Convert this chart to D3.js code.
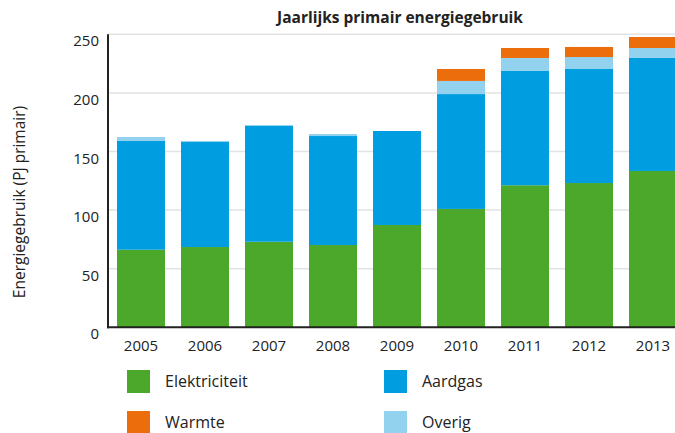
<!DOCTYPE html>
<html>
<head>
<meta charset="utf-8">
<script src="https://cdn.jsdelivr.net/npm/d3@7"></script>
<style>
  body { margin: 0; background: #fff; }
  svg { font-family: "Open Sans", Lato, sans-serif; }
</style>
</head>
<body>
<svg width="675" height="433"></svg>
<script>
// data (PJ primair)
const years = ["2005", "2006", "2007", "2008", "2009", "2010", "2011", "2012", "2013"];
const elektriciteit = [66.2, 68.5, 73, 70.2, 87.3, 101, 121.2, 123.1, 133.4];
const aardgas = [92.8, 89.6, 98.8, 93, 80.2, 98, 97.5, 97.3, 96.4];
const overig = [3.4, 0.9, 0.8, 1.7, 0, 11.2, 11.1, 10.2, 8.5];
const warmte = [0, 0, 0, 0, 0, 10.2, 8.5, 8.6, 9.4];
const yTicks = [0, 50, 100, 150, 200, 250];

const seriesNames = ["Elektriciteit", "Aardgas", "Overig", "Warmte"];
const colors = {
  "Elektriciteit": "#4ca82a",
  "Aardgas": "#009ee0",
  "Overig": "#93d2ef",
  "Warmte": "#ec6d0b"
};

const table = years.map(function(y, i) {
  return { year: y, "Elektriciteit": elektriciteit[i], "Aardgas": aardgas[i], "Overig": overig[i], "Warmte": warmte[i] };
});

const svg = d3.select("svg");

const x = d3.scaleBand()
  .domain(years)
  .range([109, 685])
  .paddingInner(0.25)
  .paddingOuter(0.125);

const y = d3.scaleLinear()
  .domain([0, 250])
  .range([327.3, 34.3]);

// gridlines
svg.append("g")
  .selectAll("line")
  .data(yTicks.filter(d => d > 0))
  .join("line")
  .attr("x1", 108)
  .attr("x2", 675)
  .attr("y1", d => y(d))
  .attr("y2", d => y(d))
  .attr("stroke", "#e3e3e3")
  .attr("stroke-width", 1.5);

// stacked bars
const stack = d3.stack().keys(seriesNames);
svg.append("g")
  .selectAll("g")
  .data(stack(table))
  .join("g")
  .attr("fill", d => colors[d.key])
  .selectAll("rect")
  .data(d => d)
  .join("rect")
  .attr("x", d => x(d.data.year))
  .attr("width", x.bandwidth())
  .attr("y", d => y(d[1]))
  .attr("height", d => y(d[0]) - y(d[1]));

// axes
svg.append("line")
  .attr("x1", 108).attr("x2", 108)
  .attr("y1", y(250)).attr("y2", y(0) + 1)
  .attr("stroke", "#222").attr("stroke-width", 2);
svg.append("line")
  .attr("x1", 107).attr("x2", 675)
  .attr("y1", y(0)).attr("y2", y(0))
  .attr("stroke", "#222").attr("stroke-width", 2);

// y tick labels
svg.append("g")
  .selectAll("text")
  .data(yTicks)
  .join("text")
  .attr("x", 99)
  .attr("y", d => y(d) + 12)
  .attr("text-anchor", "end")
  .attr("font-size", 15)
  .attr("fill", "#222")
  .text(d => d);

// x tick labels
svg.append("g")
  .selectAll("text")
  .data(years)
  .join("text")
  .attr("x", d => x(d) + x.bandwidth() / 2)
  .attr("y", 351)
  .attr("text-anchor", "middle")
  .attr("font-size", 15)
  .attr("fill", "#222")
  .text(d => d);

// title
svg.append("text")
  .attr("x", 400)
  .attr("y", 23)
  .attr("text-anchor", "middle")
  .attr("font-size", 15.5)
  .attr("font-weight", "bold")
  .attr("fill", "#222")
  .text("Jaarlijks primair energiegebruik");

// y axis title
svg.append("text")
  .attr("transform", "translate(25,202) rotate(-90)")
  .attr("text-anchor", "middle")
  .attr("font-size", 15.5)
  .attr("fill", "#222")
  .text("Energiegebruik (PJ primair)");

// legend
const legendItems = [
  { name: "Elektriciteit", lx: 127, ly: 370 },
  { name: "Aardgas", lx: 384, ly: 370 },
  { name: "Warmte", lx: 127, ly: 411 },
  { name: "Overig", lx: 384, ly: 411 }
];
const lg = svg.append("g")
  .selectAll("g")
  .data(legendItems)
  .join("g")
  .attr("transform", d => "translate(" + d.lx + "," + d.ly + ")");
lg.append("rect")
  .attr("width", 23)
  .attr("height", 23)
  .attr("fill", d => colors[d.name]);
lg.append("text")
  .attr("x", 38)
  .attr("y", 17)
  .attr("font-size", 16)
  .attr("fill", "#222")
  .text(d => d.name);
</script>
</body>
</html>
